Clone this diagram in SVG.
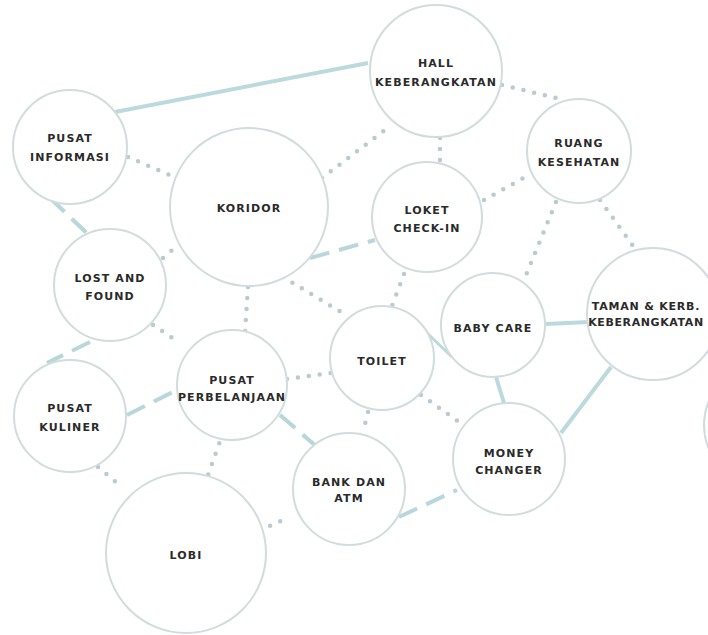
<svg xmlns="http://www.w3.org/2000/svg" width="708" height="635" viewBox="0 0 708 635">
<style>
.n{fill:#ffffff;stroke:#d1dcdc;stroke-width:2}
.t{font-family:"DejaVu Sans",sans-serif;font-weight:bold;font-size:11px;letter-spacing:1.1px;fill:#2a2a2a;text-anchor:middle}
.dot{stroke:#b8cbce;stroke-width:4.5;stroke-linecap:round;stroke-dasharray:0 11;fill:none}
.dash{stroke:#b9d7da;stroke-width:4;stroke-dasharray:20 10;fill:none}
.sol{stroke:#bcdadd;stroke-width:4;fill:none}
</style>
<rect width="708" height="635" fill="#ffffff"/>
<g id="connectors">
<line class="sol" x1="115" y1="112" x2="368" y2="63"/>
<line class="dot" x1="128" y1="157" x2="172" y2="176"/>
<line class="dash" x1="50" y1="198" x2="92" y2="238"/>
<line class="dot" x1="322" y1="178" x2="385" y2="130"/>
<line class="dot" x1="440" y1="138" x2="440" y2="162"/>
<line class="dot" x1="502" y1="85" x2="565" y2="100"/>
<line class="dot" x1="484" y1="200" x2="527" y2="176"/>
<line class="dash" x1="310" y1="258" x2="375" y2="240"/>
<line class="dot" x1="163" y1="258" x2="177" y2="246"/>
<line class="dot" x1="248" y1="287" x2="245" y2="332"/>
<line class="dot" x1="283" y1="277" x2="346" y2="315"/>
<line class="dot" x1="404" y1="274" x2="392" y2="306"/>
<line class="dot" x1="556" y1="202" x2="524" y2="280"/>
<line class="dot" x1="600" y1="200" x2="636" y2="250"/>
<line class="sol" x1="546" y1="324" x2="589" y2="322"/>
<line class="sol" x1="404" y1="311" x2="452" y2="357" style="stroke-width:3"/>
<line class="sol" x1="496" y1="377" x2="504" y2="403"/>
<line class="sol" x1="611" y1="367" x2="561" y2="433"/>
<line class="dot" x1="421" y1="395" x2="459" y2="422"/>
<line class="dot" x1="368" y1="412" x2="363" y2="432"/>
<line class="dot" x1="287" y1="379" x2="331" y2="373"/>
<line class="dot" x1="153" y1="325" x2="180" y2="343"/>
<line class="dash" x1="90" y1="342" x2="47" y2="363"/>
<line class="dash" x1="127" y1="415" x2="177" y2="390"/>
<line class="dash" x1="280" y1="415" x2="317" y2="447"/>
<line class="dot" x1="223" y1="433" x2="208" y2="475"/>
<line class="dot" x1="98" y1="467" x2="123" y2="488"/>
<line class="dot" x1="260" y1="530" x2="290" y2="517"/>
<line class="dash" x1="399" y1="517" x2="457" y2="490"/>
</g>
<g id="hall"><circle class="n" cx="436" cy="71" r="66"/><text class="t" x="436" y="67">HALL</text><text class="t" x="436" y="86">KEBERANGKATAN</text></g>
<g id="info"><circle class="n" cx="70" cy="147" r="57"/><text class="t" x="70" y="142">PUSAT</text><text class="t" x="70" y="161">INFORMASI</text></g>
<g id="koridor"><circle class="n" cx="249" cy="207" r="79"/><text class="t" x="249" y="212">KORIDOR</text></g>
<g id="lost"><circle class="n" cx="110" cy="285" r="56"/><text class="t" x="110" y="282">LOST AND</text><text class="t" x="110" y="300">FOUND</text></g>
<g id="loket"><circle class="n" cx="427" cy="217" r="55"/><text class="t" x="427" y="214">LOKET</text><text class="t" x="427" y="232">CHECK-IN</text></g>
<g id="ruang"><circle class="n" cx="579" cy="151" r="52"/><text class="t" x="579" y="147">RUANG</text><text class="t" x="579" y="166">KESEHATAN</text></g>
<g id="taman"><circle class="n" cx="653" cy="314" r="66"/><text class="t" x="646" y="310" style="letter-spacing:0.8px">TAMAN &amp; KERB.</text><text class="t" x="646" y="326" style="letter-spacing:0.6px">KEBERANGKATAN</text></g>
<g id="partial"><circle class="n" cx="762" cy="425" r="58"/></g>
<g id="baby"><circle class="n" cx="493" cy="325" r="52"/><text class="t" x="493" y="332">BABY CARE</text></g>
<g id="toilet"><circle class="n" cx="382" cy="358" r="52"/><text class="t" x="382" y="365">TOILET</text></g>
<g id="perbelanjaan"><circle class="n" cx="232" cy="385" r="55"/><text class="t" x="232" y="384">PUSAT</text><text class="t" x="232" y="401">PERBELANJAAN</text></g>
<g id="money"><circle class="n" cx="509" cy="459" r="56"/><text class="t" x="509" y="457">MONEY</text><text class="t" x="509" y="474">CHANGER</text></g>
<g id="bank"><circle class="n" cx="349" cy="489" r="56"/><text class="t" x="349" y="486">BANK DAN</text><text class="t" x="349" y="502">ATM</text></g>
<g id="kuliner"><circle class="n" cx="70" cy="416" r="56"/><text class="t" x="70" y="412">PUSAT</text><text class="t" x="70" y="431">KULINER</text></g>
<g id="lobi"><circle class="n" cx="186" cy="553" r="80"/><text class="t" x="186" y="559">LOBI</text></g>
</svg>
